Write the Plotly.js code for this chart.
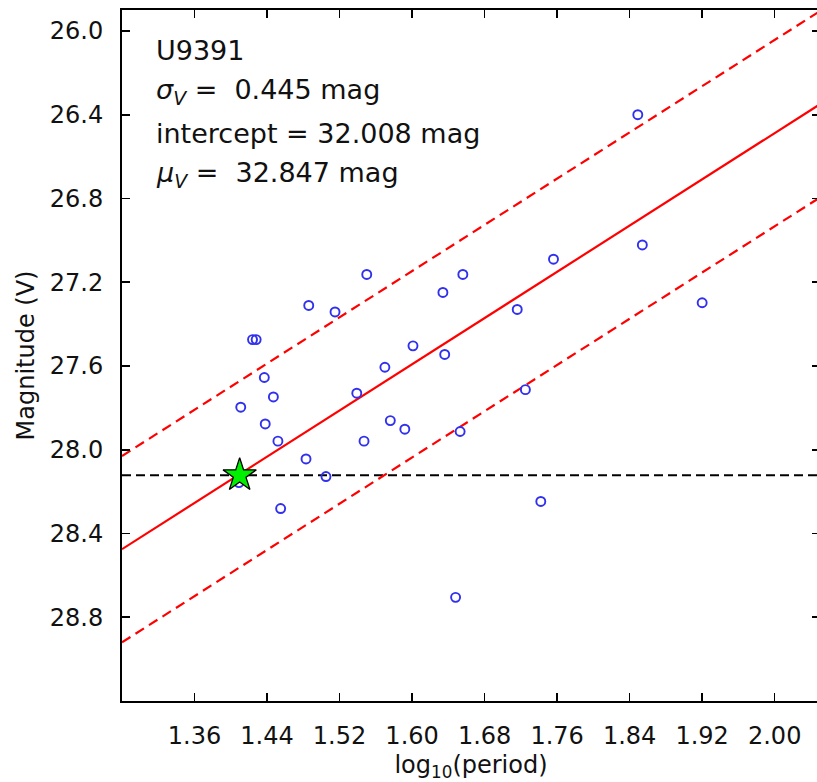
<!DOCTYPE html>
<html>
<head>
<meta charset="utf-8">
<script src="https://cdn.plot.ly/plotly-3.0.1.min.js"></script>
<style>
html, body { margin: 0; padding: 0; overflow: hidden; background: #ffffff; }
#chart { width: 820px; height: 782px; }
</style>
</head>
<body>
<div id="chart"></div>
<script>
// Cepheid data (log10 period, V magnitude)
const logPeriod = [1.550, 1.634, 1.486, 1.515, 1.424, 1.428, 1.601, 1.570, 1.636, 1.437,
                   1.447, 1.539, 1.411, 1.438, 1.576, 1.592, 1.452, 1.547, 1.483, 1.505,
                   1.409, 1.455, 1.656, 1.756, 1.854, 1.716, 1.920, 1.725, 1.653, 1.849,
                   1.742, 1.648];
const magV = [27.163, 27.249, 27.311, 27.342, 27.474, 27.474, 27.504, 27.606, 27.545, 27.655,
              27.748, 27.730, 27.797, 27.877, 27.861, 27.902, 27.959, 27.959, 28.044, 28.128,
              28.157, 28.281, 27.163, 27.090, 27.022, 27.330, 27.298, 27.713, 27.913, 26.400,
              28.247, 28.705];

// Fit line (P-L relation) endpoints and scatter
const fitX = [1.28, 2.05];
const fitY = [28.475, 26.350];
const sigmaV = 0.445;
const upperY = fitY.map(v => v - sigmaV);
const lowerY = fitY.map(v => v + sigmaV);

// Horizontal limit line and star marker
const limitX = [1.28, 2.05];
const limitY = [28.122, 28.122];
const starX = [1.4098];
const starY = [28.122];

// Tick values
const xTicks = [1.36, 1.44, 1.52, 1.60, 1.68, 1.76, 1.84, 1.92, 2.00];
const xTickText = ["1.36", "1.44", "1.52", "1.60", "1.68", "1.76", "1.84", "1.92", "2.00"];
const yTicks = [26.0, 26.4, 26.8, 27.2, 27.6, 28.0, 28.4, 28.8];
const yTickText = ["26.0", "26.4", "26.8", "27.2", "27.6", "28.0", "28.4", "28.8"];

// Annotation text lines
const labelLines = [
  "U9391",
  "<i>σ</i><sub><i>V</i></sub> =  0.445 mag",
  "intercept = 32.008 mag",
  "<i>μ</i><sub><i>V</i></sub> =  32.847 mag"
];

const FONT = "DejaVu Sans, sans-serif";

const traces = [
  { x: limitX, y: limitY, mode: "lines", line: { color: "#000000", width: 2, dash: "9px,5px" }, hoverinfo: "skip" },
  { x: fitX, y: upperY, mode: "lines", line: { color: "#ff0000", width: 2.2, dash: "10px,6px" }, hoverinfo: "skip" },
  { x: fitX, y: lowerY, mode: "lines", line: { color: "#ff0000", width: 2.2, dash: "10px,6px" }, hoverinfo: "skip" },
  { x: fitX, y: fitY, mode: "lines", line: { color: "#ff0000", width: 2.2 }, hoverinfo: "skip" },
  { x: logPeriod, y: magV, mode: "markers",
    marker: { symbol: "circle-open", size: 9, color: "#3030ee", line: { width: 1.9, color: "#3030ee" } } },
  { x: starX, y: starY, mode: "markers",
    marker: { symbol: "star", size: 25, color: "#00ee00", line: { width: 1.3, color: "#000000" } } }
];

const annotations = labelLines.map((t, i) => ({
  text: t, xref: "paper", yref: "paper",
  x: (154 - 122) / 698, y: 1 - (50 + 41.5 * i - 10) / 691,
  xanchor: "left", yanchor: "middle", showarrow: false,
  font: { family: FONT, size: 27, color: "#111111" }
}));

const layout = {
  width: 820, height: 782,
  margin: { l: 122, r: 0, t: 10, b: 81 },
  paper_bgcolor: "#ffffff", plot_bgcolor: "#ffffff",
  showlegend: false,
  font: { family: FONT, color: "#000000" },
  xaxis: {
    range: [1.28, 2.05], tickvals: xTicks, ticktext: xTickText,
    ticks: "inside", ticklen: 8, tickwidth: 1.6, tickcolor: "#000000",
    showline: true, linecolor: "#000000", linewidth: 2, mirror: "ticks",
    showgrid: false, zeroline: false,
    tickfont: { family: FONT, size: 24, color: "#111111" },
    ticklabelstandoff: 12,
    title: { text: "log<sub>10</sub>(period)", font: { family: FONT, size: 24, color: "#111111" }, standoff: 8 }
  },
  yaxis: {
    range: [29.2, 25.9], tickvals: yTicks, ticktext: yTickText,
    ticks: "inside", ticklen: 8, tickwidth: 1.6, tickcolor: "#000000",
    showline: true, linecolor: "#000000", linewidth: 2, mirror: "ticks",
    showgrid: false, zeroline: false,
    tickfont: { family: FONT, size: 24, color: "#111111" },
    ticklabelstandoff: 12,
    title: { text: "Magnitude (V)", font: { family: FONT, size: 24, color: "#111111" }, standoff: 8 }
  },
  annotations: annotations
};

Plotly.newPlot("chart", traces, layout, { staticPlot: true, displayModeBar: false });
</script>
</body>
</html>
